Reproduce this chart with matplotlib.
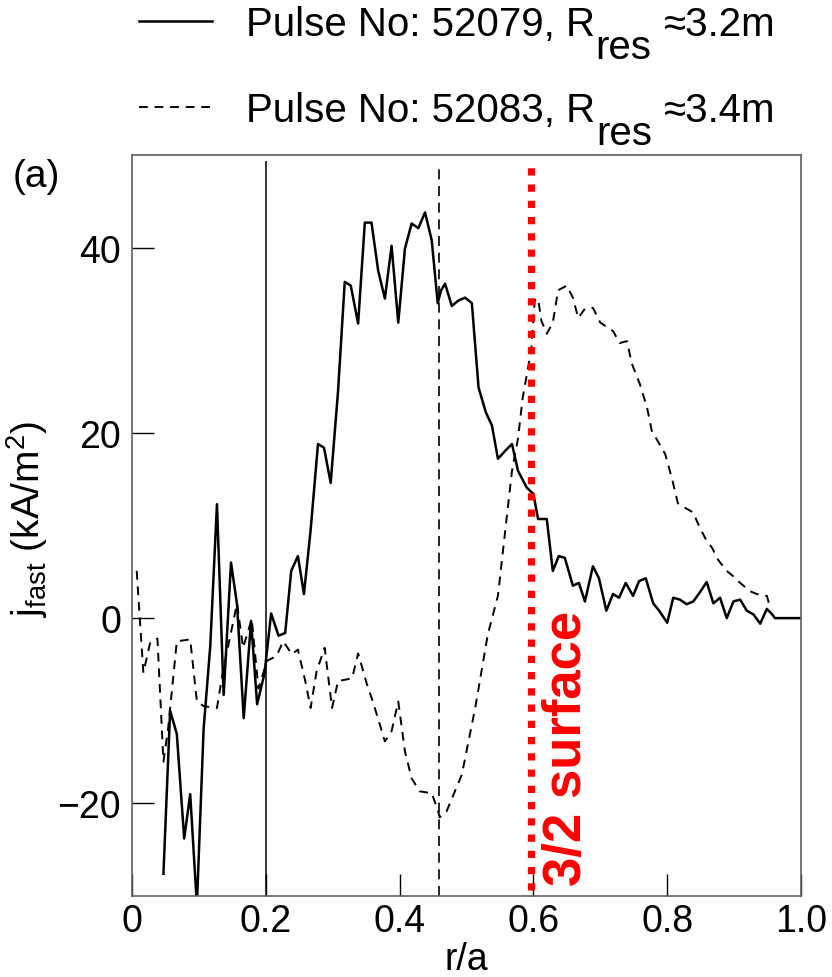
# import libraries
import numpy as np
import matplotlib
matplotlib.use('Agg')
import matplotlib.pyplot as plt

plt.rcParams['font.family'] = 'Liberation Sans'
plt.rcParams['mathtext.fontset'] = 'custom'
plt.rcParams['mathtext.rm'] = 'Liberation Sans'
plt.rcParams['mathtext.it'] = 'Liberation Sans:italic'
plt.rcParams['mathtext.bf'] = 'Liberation Sans:bold'

# pulse 52079, R_res ~ 3.2m (solid)
r_52079 = [0.047, 0.057, 0.067, 0.078, 0.087, 0.097, 0.107, 0.117, 0.127, 0.137,
           0.148, 0.157, 0.167, 0.178, 0.187, 0.198, 0.208, 0.219, 0.229, 0.238,
           0.248, 0.257, 0.267, 0.278, 0.287, 0.297, 0.308, 0.318, 0.327, 0.338,
           0.348, 0.358, 0.368, 0.378, 0.388, 0.398, 0.408, 0.418, 0.428, 0.438,
           0.448, 0.457, 0.462, 0.468, 0.478, 0.488, 0.498, 0.508, 0.518, 0.529,
           0.538, 0.547, 0.557, 0.568, 0.577, 0.590, 0.600, 0.607, 0.620, 0.629,
           0.638, 0.647, 0.659, 0.668, 0.677, 0.689, 0.698, 0.709, 0.719, 0.728,
           0.738, 0.749, 0.758, 0.768, 0.779, 0.788, 0.800, 0.809, 0.819, 0.829,
           0.839, 0.849, 0.859, 0.869, 0.879, 0.889, 0.899, 0.909, 0.919, 0.929,
           0.939, 0.949, 0.957, 0.961, 1.000]
j_52079 = [-27.6, -10.0, -12.5, -23.8, -19.0, -31.0, -12.0, -3.0, 12.3, -8.3,
           6.0, 1.5, -10.8, -0.3, -9.3, -6.0, 0.5, -1.9, -1.6, 5.1,
           6.7, 2.6, 9.5, 18.8, 18.4, 14.6, 24.5, 36.3, 35.9, 31.8,
           42.7, 42.7, 37.5, 34.5, 40.2, 31.9, 39.9, 42.6, 42.1, 43.8,
           40.8, 34.0, 35.4, 36.1, 33.7, 34.3, 34.6, 34.0, 24.9, 22.2,
           20.8, 17.2, 18.0, 18.8, 15.9, 14.1, 13.4, 10.7, 10.7, 5.1,
           6.7, 6.5, 3.5, 3.8, 1.8, 5.6, 4.3, 0.8, 2.6, 2.2,
           3.8, 2.4, 4.0, 4.3, 1.6, 0.8, -0.5, 2.2, 2.0, 1.5,
           1.8, 2.8, 3.9, 1.6, 2.2, 0.0, 1.8, 2.0, 0.8, 0.4,
           -0.6, 1.0, 0.4, 0.0, 0.0]

# pulse 52083, R_res ~ 3.4m (dashed)
r_52083 = [0.007, 0.017, 0.027, 0.038, 0.047, 0.054, 0.067, 0.087, 0.097, 0.107,
           0.127, 0.136, 0.157, 0.166, 0.179, 0.189, 0.202, 0.216, 0.226, 0.239,
           0.248, 0.259, 0.267, 0.276, 0.288, 0.299, 0.308, 0.329, 0.338, 0.351,
           0.360, 0.378, 0.388, 0.398, 0.408, 0.418, 0.430, 0.448, 0.456, 0.460,
           0.470, 0.493, 0.513, 0.532, 0.547, 0.560, 0.568, 0.577, 0.584, 0.592,
           0.597, 0.602, 0.607, 0.612, 0.620, 0.629, 0.637, 0.650, 0.659, 0.667,
           0.677, 0.689, 0.700, 0.719, 0.729, 0.740, 0.747, 0.759, 0.770, 0.777,
           0.786, 0.797, 0.807, 0.816, 0.827, 0.839, 0.846, 0.857, 0.867, 0.876,
           0.889, 0.899, 0.909, 0.924, 0.934, 0.949, 0.954]
j_52083 = [5.1, -5.9, -2.7, -2.2, -15.5, -11.9, -2.5, -2.3, -9.0, -9.5,
           -9.7, -5.7, 1.6, -3.2, -0.1, -7.6, -4.6, -4.1, -2.5, -3.9,
           -3.4, -6.8, -9.7, -5.7, -3.2, -9.7, -6.8, -6.5, -3.8, -7.1,
           -9.0, -13.3, -12.2, -9.0, -14.4, -17.3, -18.7, -18.9, -20.5, -21.5,
           -20.9, -16.9, -9.7, -1.7, 2.4, 10.8, 15.9, 19.4, 23.8, 27.0,
           29.2, 34.3, 34.5, 32.1, 30.7, 31.9, 35.4, 35.9, 34.6, 32.4,
           33.4, 33.5, 31.9, 31.0, 29.7, 29.9, 27.5, 25.3, 22.7, 20.2,
           19.1, 17.7, 15.1, 12.4, 11.9, 11.4, 10.2, 8.6, 7.6, 6.3,
           5.1, 4.5, 3.8, 2.9, 2.6, 2.4, 1.1]

# marker positions
r_res_52079 = 0.2
r_res_52083 = 0.459
r_32_surface = 0.597

labels = ['Pulse No: 52079, R', 'Pulse No: 52083, R']
label_sub = 'res'
label_tail = ['\u22483.2m', '\u22483.4m']

W, H = 832, 978
fig = plt.figure(figsize=(W / 100, H / 100), dpi=100)
ax = fig.add_axes([132 / W, 1 - 897 / H, 669 / W, 741 / H])

l1, = ax.plot(r_52079, j_52079, color='black', lw=1.8)
l2, = ax.plot(r_52083, j_52083, color='black', lw=1.4, linestyle=(0, (4.5, 3.5)))

# resonance positions and 3/2 surface
ax.vlines(r_res_52079, -30, 49.4, color='black', lw=1.1)
ax.vlines(r_res_52083, -30, 49.1, color='black', lw=1.2, linestyles=[(0, (6, 4))])
ax.vlines(r_32_surface, -29.3, 49.1, color='#ff0000', lw=5.2,
          linestyles=[(0, (1, 1.25))])
ax.text(0.650, -28.8, '3/2 surface', rotation=90, color='#ff0000',
        fontsize=38, fontweight='bold', ha='center', va='bottom')

ax.set_xlim(0, 1.0)
ax.set_ylim(-30, 50)
ax.set_xticks([0, 0.2, 0.4, 0.6, 0.8, 1.0])
ax.set_xticklabels(['0', '0.2', '0.4', '0.6', '0.8', '1.0'])
ax.set_yticks([-20, 0, 20, 40])
ax.tick_params(direction='in', length=16, width=1.0, labelsize=27,
               top=False, right=False, color='black')
ax.tick_params(axis='x', pad=5)
ax.tick_params(axis='y', pad=8)
for s in ax.spines.values():
    s.set_color('#606060')
    s.set_linewidth(1.2)

ax.set_xlabel('r/a', fontsize=27, va='baseline')
ax.xaxis.set_label_coords(0.5, -0.0985)
ax.set_ylabel(r'j$_{\mathrm{fast}}$ (kA/m$^{2}$)', fontsize=28)
ax.yaxis.set_label_coords(-0.123, 0.51)

fig.text(13 / W, 1 - 159 / H, '(a)', fontsize=28, ha='left', va='top')

# legend above the axes
leg = fig.legend([l1, l2], labels, loc='upper left',
                 bbox_to_anchor=(139 / W, 1 - 6 / H), frameon=False,
                 fontsize=29, handlelength=1.8, handletextpad=0.85,
                 labelspacing=1.2, borderpad=0, borderaxespad=0)

# subscript "res" and the tail of each label, placed after the legend is laid out
fig.canvas.draw()
renderer = fig.canvas.get_renderer()
for t, tail in zip(leg.get_texts(), label_tail):
    bb = t.get_window_extent(renderer)
    sub = fig.text((bb.x1 + 1) / W, (bb.y0 - 23) / H, label_sub, fontsize=29,
                   ha='left', va='bottom')
    sb = sub.get_window_extent(renderer)
    fig.text((sb.x1 + 12) / W, bb.y0 / H, tail, fontsize=29,
             ha='left', va='bottom')

fig.savefig('out.png', dpi=100)
